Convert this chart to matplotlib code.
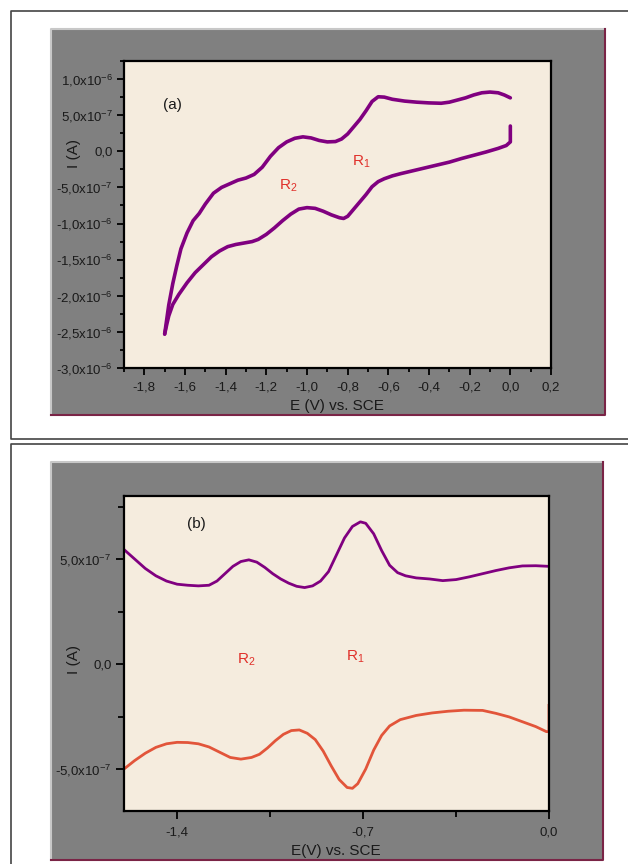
import matplotlib
matplotlib.use("Agg")
import matplotlib.pyplot as plt
from matplotlib.patches import Rectangle
from matplotlib.lines import Line2D
from matplotlib.ticker import MultipleLocator, FixedLocator, FuncFormatter

plt.rcParams['font.family'] = ['Liberation Sans', 'DejaVu Sans']
plt.rcParams['mathtext.fontset'] = 'custom'
plt.rcParams['mathtext.rm'] = 'Liberation Sans'

# ---- data (a): cyclic voltammogram, current in units of 1e-7 A ----
a_upper_E = [0.00, -0.03, -0.06, -0.10, -0.14, -0.18, -0.22, -0.26, -0.30, -0.34,
             -0.40, -0.46, -0.52, -0.58, -0.62, -0.65, -0.68, -0.71, -0.74, -0.77,
             -0.80, -0.83, -0.86, -0.90, -0.94, -0.98, -1.02, -1.06, -1.10, -1.14,
             -1.18, -1.22, -1.26, -1.30, -1.34, -1.38, -1.42, -1.46, -1.50, -1.53,
             -1.56, -1.59, -1.62, -1.64, -1.66, -1.68, -1.70]
a_upper_I = [7.4, 7.8, 8.1, 8.2, 8.1, 7.8, 7.4, 7.1, 6.8, 6.65,
             6.7, 6.8, 6.95, 7.2, 7.5, 7.55, 6.9, 5.6, 4.4, 3.4,
             2.4, 1.7, 1.35, 1.3, 1.5, 1.85, 2.0, 1.8, 1.3, 0.5,
             -0.7, -2.2, -3.2, -3.7, -4.0, -4.5, -5.0, -5.8, -7.3, -8.6,
             -9.6, -11.3, -13.5, -15.8, -18.3, -21.3, -25.3]
a_lower_E = [-1.70, -1.69, -1.68, -1.66, -1.63, -1.59, -1.55, -1.51, -1.47, -1.43,
             -1.39, -1.35, -1.31, -1.27, -1.24, -1.20, -1.16, -1.12, -1.08, -1.04,
             -1.00, -0.96, -0.92, -0.88, -0.84, -0.82, -0.80, -0.77, -0.74, -0.71,
             -0.68, -0.65, -0.62, -0.58, -0.54, -0.48, -0.42, -0.36, -0.30, -0.24,
             -0.18, -0.12, -0.06, -0.02, 0.00, 0.00]
a_lower_I = [-25.3, -24.0, -22.8, -21.2, -19.8, -18.2, -16.8, -15.7, -14.6, -13.8,
             -13.2, -12.9, -12.7, -12.5, -12.2, -11.5, -10.6, -9.6, -8.7, -8.0,
             -7.8, -7.9, -8.3, -8.8, -9.2, -9.3, -9.0, -8.0, -7.0, -6.0,
             -4.9, -4.2, -3.8, -3.4, -3.1, -2.7, -2.3, -1.9, -1.5, -1.0,
             -0.55, -0.1, 0.4, 0.8, 1.3, 3.5]

# ---- data (b): current in units of 1e-7 A ----
b_ox_E = [-1.60, -1.56, -1.52, -1.48, -1.44, -1.40, -1.36, -1.32, -1.28, -1.25,
          -1.22, -1.19, -1.16, -1.13, -1.10, -1.07, -1.04, -1.01, -0.98, -0.95,
          -0.92, -0.89, -0.86, -0.83, -0.80, -0.77, -0.74, -0.71, -0.69, -0.66,
          -0.63, -0.60, -0.57, -0.54, -0.50, -0.45, -0.40, -0.35, -0.30, -0.25,
          -0.20, -0.15, -0.10, -0.05, 0.00]
b_ox_I = [5.45, 5.0, 4.55, 4.2, 3.95, 3.8, 3.75, 3.72, 3.75, 3.95,
          4.3, 4.65, 4.88, 4.96, 4.85, 4.6, 4.3, 4.05, 3.85, 3.7,
          3.64, 3.72, 3.95, 4.4, 5.2, 6.0, 6.55, 6.77, 6.7, 6.2,
          5.4, 4.7, 4.35, 4.2, 4.1, 4.05, 3.97, 4.02, 4.15, 4.3,
          4.45, 4.58, 4.67, 4.68, 4.65]
b_red_E = [-1.60, -1.56, -1.52, -1.48, -1.44, -1.40, -1.36, -1.32, -1.28, -1.24,
           -1.20, -1.16, -1.12, -1.09, -1.06, -1.03, -1.00, -0.97, -0.94, -0.91,
           -0.88, -0.85, -0.82, -0.79, -0.76, -0.74, -0.72, -0.69, -0.66, -0.63,
           -0.60, -0.56, -0.50, -0.44, -0.38, -0.32, -0.25, -0.20, -0.15, -0.10,
           -0.05, -0.01, 0.00, 0.00]
b_red_I = [-5.0, -4.6, -4.25, -3.97, -3.8, -3.73, -3.74, -3.8, -3.95, -4.2,
           -4.45, -4.53, -4.45, -4.3, -4.0, -3.65, -3.35, -3.17, -3.14, -3.3,
           -3.6, -4.15, -4.85, -5.5, -5.88, -5.92, -5.7, -5.0, -4.1, -3.4,
           -2.95, -2.65, -2.45, -2.33, -2.25, -2.2, -2.21, -2.35, -2.52, -2.75,
           -2.98, -3.22, -3.22, -1.97]

W, H = 628, 864
fig = plt.figure(figsize=(W / 100, H / 100), dpi=100)
fig.patch.set_facecolor('white')


def fx(px):
    return px / W


def fy(py):
    return 1 - py / H


def frame_line(xs, ys, **kw):
    fig.add_artist(Line2D([fx(v) for v in xs], [fy(v) for v in ys], **kw))


# outer boxes
box_kw = dict(color='#444444', lw=1.2)
frame_line([628, 11, 11, 628], [11, 11, 439, 439], **box_kw)
frame_line([628, 11, 11], [444, 444, 864], **box_kw)


def gray_panel(x0, y0, x1, y1):
    fig.add_artist(Rectangle((fx(x0), fy(y1)), fx(x1) - fx(x0), fy(y0) - fy(y1),
                             transform=fig.transFigure, facecolor='#808080',
                             edgecolor='none', zorder=0))
    frame_line([x0, x0, x1], [y1, y0, y0], color='#c8c8c8', lw=1.5, zorder=1)
    frame_line([x0, x1, x1], [y1, y1, y0], color='#7a2446', lw=1.5, zorder=1)


gray_panel(51, 29, 605, 415)
gray_panel(51, 462, 603, 860)

cream = '#f5ecde'
purple = '#800080'
orange = '#e2553a'
red = '#e0302a'
txt = '#1a1a1a'


def make_ax(l, t, r, b):
    ax = fig.add_axes([fx(l), fy(b), fx(r) - fx(l), fy(t) - fy(b)])
    ax.set_facecolor(cream)
    for s in ax.spines.values():
        s.set_linewidth(1.6)
        s.set_color('black')
    ax.tick_params(which='both', direction='out', colors='black', labelcolor=txt,
                   labelsize=9.5, width=1.3)
    ax.tick_params(which='major', length=5, pad=3)
    ax.tick_params(which='minor', length=3)
    ax.tick_params(axis='x', pad=5)
    return ax


def comma(v, nd=1):
    return f"{v:.{nd}f}".replace('.', ',')


def sci_fmt(val, pos):
    if abs(val) < 1e-12:
        return "0,0"
    exp = 0
    m = val
    while abs(m) < 1:
        m *= 10
        exp -= 1
    return comma(m) + r"x10$^{\mathregular{" + str(exp) + "}}$"


# ---- panel (a) ----
ax1 = make_ax(124, 61, 551, 368)
ax1.plot(a_upper_E, [v * 1e-7 for v in a_upper_I], color=purple, lw=2.6,
         solid_capstyle='round', solid_joinstyle='round')
ax1.plot(a_lower_E, [v * 1e-7 for v in a_lower_I], color=purple, lw=2.6,
         solid_capstyle='round', solid_joinstyle='round')
ax1.set_xlim(-1.9, 0.2)
ax1.set_ylim(-3.0e-6, 1.25e-6)
ax1.xaxis.set_major_locator(FixedLocator([-1.8, -1.6, -1.4, -1.2, -1.0, -0.8, -0.6,
                                          -0.4, -0.2, 0.0, 0.2]))
ax1.xaxis.set_minor_locator(MultipleLocator(0.1))
ax1.xaxis.set_major_formatter(FuncFormatter(lambda v, p: comma(v + 0.0)))
ax1.yaxis.set_major_locator(MultipleLocator(0.5e-6))
ax1.yaxis.set_minor_locator(MultipleLocator(0.25e-6))
ax1.yaxis.set_major_formatter(FuncFormatter(sci_fmt))
ax1.text(-1.664, 6.4e-7, "(a)", fontsize=11, color=txt, ha='center', va='center')
ax1.text(-1.093, -4.7e-7, r"R$_{\mathregular{2}}$", fontsize=11, color=red,
         ha='center', va='center')
ax1.text(-0.734, -1.5e-7, r"R$_{\mathregular{1}}$", fontsize=11, color=red,
         ha='center', va='center')
fig.text(fx(74), fy(153), "I (A)", rotation=90, fontsize=11, color=txt,
         ha='center', va='center')
fig.text(fx(337), fy(406), "E (V) vs. SCE", fontsize=11, color=txt,
         ha='center', va='center')

# ---- panel (b) ----
ax2 = make_ax(124, 496, 549, 811)
ax2.plot(b_ox_E, [v * 1e-7 for v in b_ox_I], color=purple, lw=2.0)
ax2.plot(b_red_E, [v * 1e-7 for v in b_red_I], color=orange, lw=2.0)
ax2.set_xlim(-1.6, 0.0)
ax2.set_ylim(-7e-7, 8e-7)
ax2.xaxis.set_major_locator(FixedLocator([-1.4, -0.7, 0.0]))
ax2.xaxis.set_minor_locator(FixedLocator([-1.05, -0.35]))
ax2.xaxis.set_major_formatter(FuncFormatter(lambda v, p: comma(v + 0.0)))
ax2.yaxis.set_major_locator(FixedLocator([-5e-7, 0.0, 5e-7]))
ax2.yaxis.set_minor_locator(FixedLocator([-2.5e-7, 2.5e-7, 7.5e-7]))
ax2.yaxis.set_major_formatter(FuncFormatter(sci_fmt))
ax2.tick_params(which='major', length=6)
ax2.tick_params(which='minor', length=4)
ax2.text(-1.329, 6.65e-7, "(b)", fontsize=11, color=txt, ha='center', va='center')
ax2.text(-1.141, 0.21e-7, r"R$_{\mathregular{2}}$", fontsize=11, color=red,
         ha='center', va='center')
ax2.text(-0.731, 0.36e-7, r"R$_{\mathregular{1}}$", fontsize=11, color=red,
         ha='center', va='center')
fig.text(fx(74), fy(659), "I (A)", rotation=90, fontsize=11, color=txt,
         ha='center', va='center')
fig.text(fx(336), fy(851), "E(V) vs. SCE", fontsize=11, color=txt,
         ha='center', va='center')

fig.savefig("out.png", dpi=100, facecolor='white')
